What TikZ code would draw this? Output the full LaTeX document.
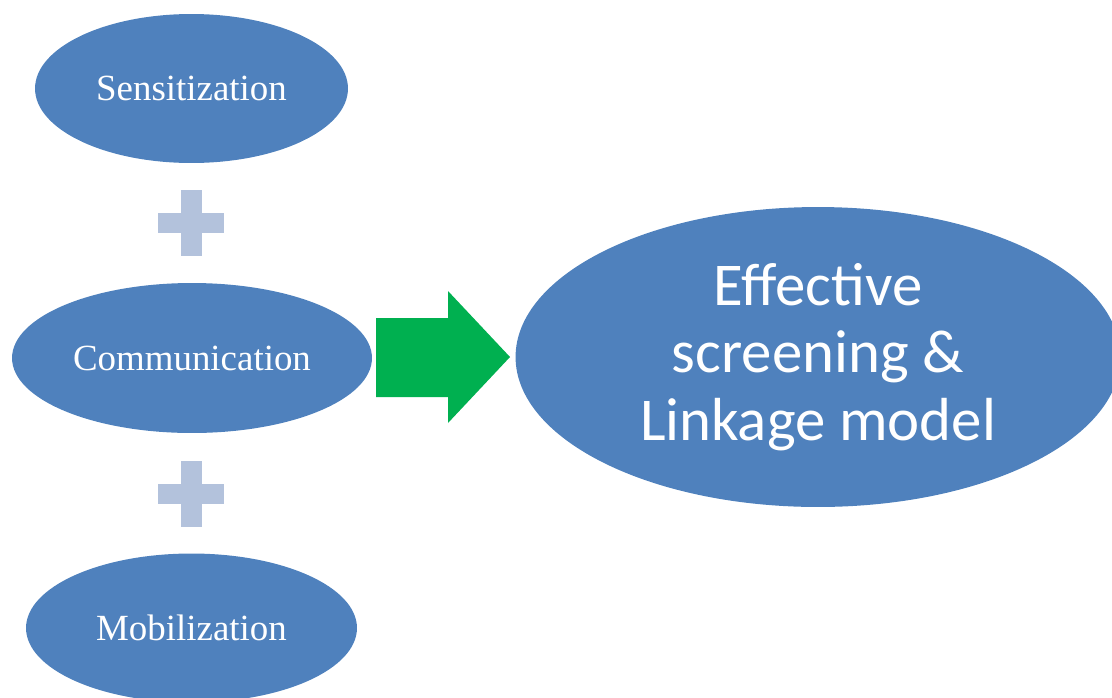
\documentclass[tikz,border=0pt]{standalone}
\usepackage{fontspec}
\setmainfont{Liberation Serif}
\newfontfamily\calibrifont{Carlito}
\usetikzlibrary{shapes.geometric}
\definecolor{ovalblue}{HTML}{4F81BD}
\definecolor{plusgray}{HTML}{B3C2DC}
\definecolor{arrowgreen}{HTML}{00B050}
\tikzset{
  oval/.style={ellipse,fill=ovalblue,text=white,inner sep=0pt,
    font=\fontsize{21}{25}\selectfont}
}
\begin{document}
\begin{tikzpicture}[x=0.02cm,y=-0.02cm]
\useasboundingbox (0,0) rectangle (1112,697);
\node[oval,minimum width=6.26cm,minimum height=2.98cm] (sens) at (191.5,88.5) {Sensitization};
\node[oval,minimum width=7.2cm,minimum height=3cm] (comm) at (192,358) {Communication};
\node[oval,minimum width=6.62cm,minimum height=2.98cm] (mob) at (191.5,628) {Mobilization};
\node[oval,minimum width=12.1cm,minimum height=6cm,align=center,
  font=\calibrifont\fontsize{34.6}{38.5}\selectfont] (model) at (818,357)
  {Effective\\screening \&\\Linkage model};
% plus signs between the ovals
\foreach \y in {223,494}{
  \fill[plusgray] (181,\y-33) rectangle (202,\y+33);
  \fill[plusgray] (158,\y-10) rectangle (224,\y+10);
}
% block arrow
\fill[arrowgreen] (376,318) -- (448,318) -- (448,291) -- (510,357)
  -- (448,423) -- (448,397) -- (376,397) -- cycle;
\end{tikzpicture}
\end{document}
